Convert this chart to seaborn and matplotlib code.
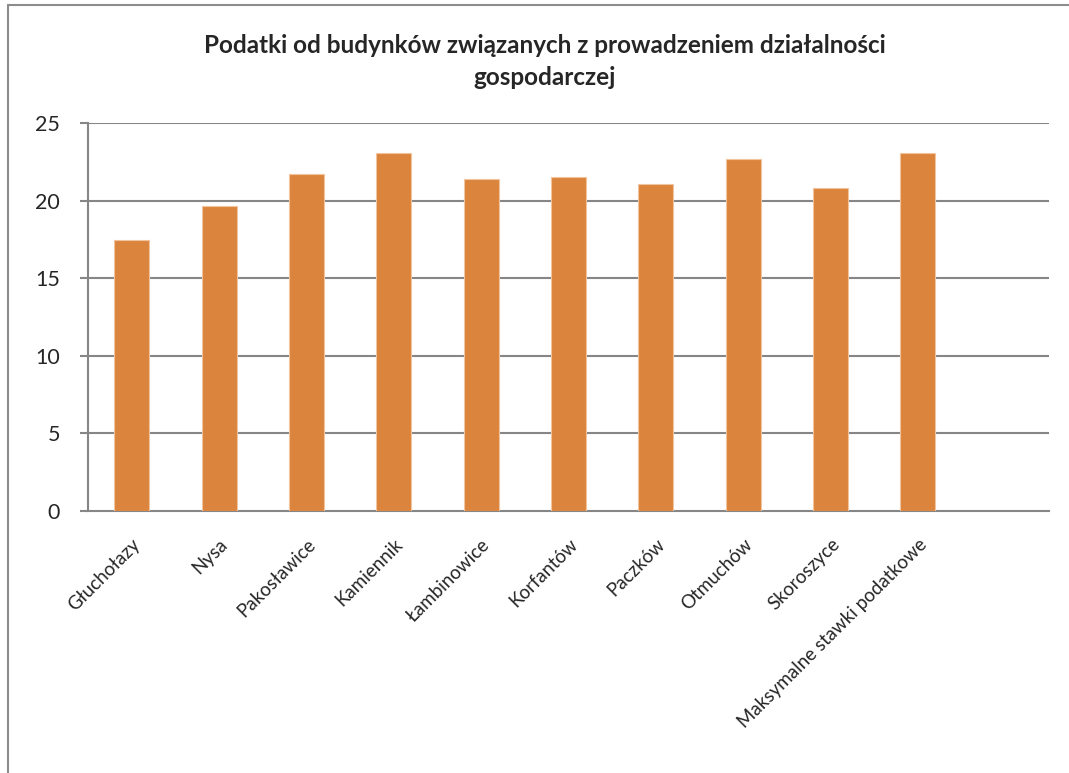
import matplotlib
matplotlib.use('Agg')
import matplotlib.pyplot as plt
import seaborn as sns
import pandas as pd
from matplotlib.lines import Line2D

# dane
gminy = ['Głuchołazy', 'Nysa', 'Pakosławice', 'Kamiennik', 'Łambinowice',
         'Korfantów', 'Paczków', 'Otmuchów', 'Skoroszyce',
         'Maksymalne stawki podatkowe']
stawki = [17.50, 19.64, 21.70, 23.10, 21.40, 21.51, 21.08, 22.67, 20.80, 23.10]
y_ticks = [0, 5, 10, 15, 20, 25]

title = 'Podatki od budynków związanych z prowadzeniem działalności\ngospodarczej'

df = pd.DataFrame({'gmina': gminy, 'stawka': stawki})

sns.set_style('white')
plt.rcParams['font.family'] = ['Lato', 'DejaVu Sans']

fig = plt.figure(figsize=(10.69, 7.73), dpi=100)
ax = fig.add_axes([88 / 1069, 1 - 510.7 / 773, (1049 - 88) / 1069, (510.7 - 123.3) / 773])

sns.barplot(data=df, x='gmina', y='stawka', color='#DB843D', saturation=1,
            width=0.4, edgecolor='#F2C49E', linewidth=0.8, ax=ax, zorder=3)

grid_c = '#868686'
ax.set_xlim(-0.5, len(gminy) + 0.5)
ax.set_ylim(0, 25)
ax.set_yticks(y_ticks)
ax.set_yticklabels([str(v) for v in y_ticks], fontsize=15.5)
for v in y_ticks[1:]:
    ax.axhline(v, color=grid_c, lw=1.5, zorder=1)

# etykiety na środkach kategorii, kreski na granicach
ax.set_xticks(range(len(gminy)))
ax.set_xticklabels(gminy, rotation=45, ha='right', rotation_mode='anchor', fontsize=13.5)
ax.set_xticks([i - 0.5 for i in range(len(gminy) + 2)], minor=True)
ax.tick_params(axis='x', which='major', length=0, pad=18)
ax.tick_params(axis='x', which='minor', length=5, width=1.5, color=grid_c, direction='out')
ax.tick_params(axis='y', length=6, width=1.5, color=grid_c, direction='out', pad=14, left=True)

ax.set_xlabel('')
ax.set_ylabel('')
for s in ['top', 'right']:
    ax.spines[s].set_visible(False)
for s in ['left', 'bottom']:
    ax.spines[s].set_color(grid_c)
    ax.spines[s].set_linewidth(1.5)

fig.text(545 / 1069, 1 - 61.5 / 773, title, ha='center', va='center',
         fontsize=17.5, fontweight='bold', linespacing=1.45)

# ramka obszaru wykresu
fig.add_artist(Line2D([7.5 / 1069, 7.5 / 1069], [0, 1 - 5 / 773], color='#8c8c8c', lw=1.5, transform=fig.transFigure))
fig.add_artist(Line2D([7.5 / 1069, 1], [1 - 5 / 773, 1 - 5 / 773], color='#8c8c8c', lw=1.5, transform=fig.transFigure))

fig.savefig('out.png', dpi=100)
